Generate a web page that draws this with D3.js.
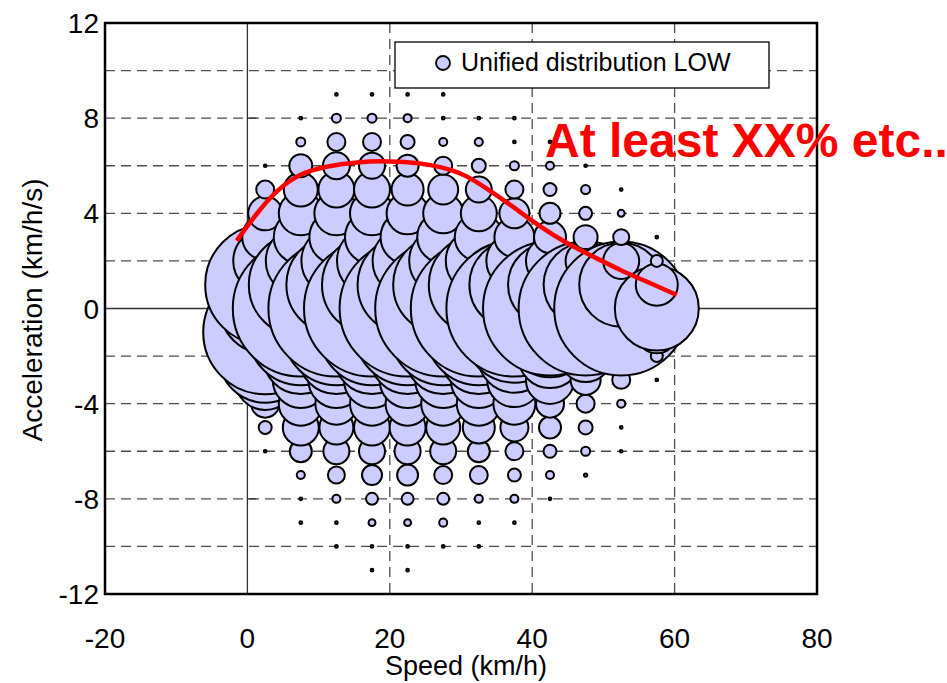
<!DOCTYPE html>
<html>
<head>
<meta charset="utf-8">
<script src="https://cdn.jsdelivr.net/npm/d3@7"></script>
<style>
  html, body { margin: 0; padding: 0; background: #ffffff; }
  svg { display: block; }
  text { font-family: "Liberation Sans", Arial, sans-serif; }
</style>
</head>
<body>
<svg id="chart" width="947" height="683"></svg>
<script>
// ---------- DATA ----------
const speedBins = [2.5, 7.5, 12.5, 17.5, 22.5, 27.5, 32.5, 37.5, 42.5, 47.5, 52.5, 57.5];
const accelBins = [9, 8, 7, 6, 5, 4, 3, 2, 1, 0, -1, -2, -3, -4, -5, -6, -7, -8, -9, -10, -11];

// bubble size (relative frequency, % of largest cell) per speed bin, rows follow accelBins
const size_02_5 = [0, 0, 0, 0.04, 1.75, 6.25, 11.4, 22.1, 77.9, 43.8, 83.1, 47.0, 19.5, 4.24, 0.91, 0.04, 0, 0, 0, 0, 0];
const size_07_5 = [0, 0.04, 0.44, 2.86, 6.25, 10.5, 15.8, 26.5, 58.5, 100, 60.7, 31.2, 17.0, 10.5, 7.0, 2.62, 0.35, 0.04, 0.04, 0, 0];
const size_12_5 = [0.04, 0.44, 1.75, 3.94, 7.0, 10.5, 15.8, 26.5, 54.1, 100, 60.7, 31.2, 17.0, 9.54, 6.25, 3.65, 1.56, 0.35, 0.04, 0.04, 0];
const size_17_5 = [0.04, 0.44, 1.75, 3.65, 7.0, 10.5, 15.8, 26.5, 54.1, 100, 60.7, 31.2, 17.0, 10.5, 7.0, 3.65, 2.16, 0.78, 0.26, 0.04, 0.04];
const size_22_5 = [0.04, 0.35, 1.06, 2.62, 5.54, 9.54, 15.8, 26.5, 54.1, 100, 60.7, 31.2, 17.0, 10.5, 7.0, 3.65, 2.38, 0.78, 0.26, 0.04, 0.04];
const size_27_5 = [0.04, 0.04, 0.35, 1.75, 4.87, 8.65, 14.6, 25.0, 54.1, 100, 60.7, 31.2, 17.0, 10.5, 6.25, 3.65, 1.75, 0.78, 0.35, 0.04, 0];
const size_32_5 = [0, 0.04, 0.35, 1.06, 3.65, 7.0, 12.5, 23.6, 54.1, 100, 60.7, 31.2, 17.0, 10.5, 5.54, 2.62, 1.75, 0.35, 0.04, 0.04, 0];
const size_37_5 = [0, 0.04, 0.04, 0.44, 1.75, 4.87, 8.65, 17.0, 43.8, 100, 55.0, 29.0, 16.0, 9.54, 4.24, 1.75, 0.91, 0.35, 0.04, 0, 0];
const size_42_5 = [0, 0, 0.04, 0.35, 0.91, 2.38, 5.54, 12.5, 38.1, 97.0, 43.8, 22.1, 12.5, 4.24, 2.62, 0.91, 0.35, 0.04, 0, 0, 0];
const size_47_5 = [0, 0, 0, 0.04, 0.44, 0.91, 3.11, 8.65, 38.1, 97.0, 38.1, 14.6, 4.87, 1.75, 1.06, 0.44, 0.06, 0, 0, 0, 0];
const size_52_5 = [0, 0, 0, 0, 0.04, 0.26, 1.38, 7.0, 38.1, 97.0, 38.1, 7.0, 1.75, 0.35, 0.04, 0.04, 0, 0, 0, 0, 0];
const size_57_5 = [0, 0, 0, 0, 0, 0, 0.04, 0.78, 9.54, 38.1, 9.54, 0.78, 0.04, 0, 0, 0, 0, 0, 0, 0, 0];
const sizeColumns = [size_02_5, size_07_5, size_12_5, size_17_5, size_22_5, size_27_5,
                     size_32_5, size_37_5, size_42_5, size_47_5, size_52_5, size_57_5];

// red trend curve (speed km/h, acceleration km/h/s)
const curveSpeed = [-1.5, 1.3, 4.1, 7.4, 10.7, 15.4, 20, 24.2, 27.0, 30.3, 33.6, 37.3, 41.1, 44.8, 48.6, 52.3, 56.1, 60.3];
const curveAccel = [2.85, 4.0, 4.98, 5.68, 5.96, 6.17, 6.2, 6.12, 5.96, 5.68, 5.05, 4.28, 3.44, 2.74, 2.18, 1.62, 1.13, 0.57];

const xTicks = [-20, 0, 20, 40, 60, 80];
const yTicks = [-12, -8, -4, 0, 4, 8, 12];
const yGrid = [-10, -8, -6, -4, -2, 2, 4, 6, 8, 10];
const xGrid = [20, 40, 60];

const legendLabel = "Unified distribution LOW";
const noteLabel = "At least XX% etc..";
const xTitle = "Speed (km/h)";
const yTitle = "Acceleration (km/h/s)";

// ---------- DRAW ----------
const svg = d3.select("#chart");
const L = 105, R = 817, T = 23, B = 594;
const x = d3.scaleLinear().domain([-20, 80]).range([L, R]);
const y = d3.scaleLinear().domain([-12, 12]).range([B, T]);
const rScale = d3.scaleSqrt().domain([0, 100]).range([0, 68]);

svg.append("rect").attr("width", 947).attr("height", 683).attr("fill", "#ffffff");

// grid
const grid = svg.append("g");
grid.selectAll("line.hg").data(yGrid).join("line")
  .attr("x1", L).attr("x2", R).attr("y1", d => y(d)).attr("y2", d => y(d))
  .attr("stroke", "#4d4d4d").attr("stroke-width", 1.3).attr("stroke-dasharray", "10,6");
grid.selectAll("line.vg").data(xGrid).join("line")
  .attr("y1", T).attr("y2", B).attr("x1", d => x(d)).attr("x2", d => x(d))
  .attr("stroke", "#4d4d4d").attr("stroke-width", 1.3).attr("stroke-dasharray", "10,6");
// zero axes
grid.append("line").attr("x1", L).attr("x2", R).attr("y1", y(0)).attr("y2", y(0))
  .attr("stroke", "#333").attr("stroke-width", 1.3);
grid.append("line").attr("x1", x(0)).attr("x2", x(0)).attr("y1", T).attr("y2", B)
  .attr("stroke", "#333").attr("stroke-width", 1.3);
grid.selectAll("line.zt").data(yTicks.filter(v => v !== 0 && Math.abs(v) !== 12)).join("line")
  .attr("x1", x(0)).attr("x2", x(0) + 9).attr("y1", d => y(d)).attr("y2", d => y(d))
  .attr("stroke", "#333").attr("stroke-width", 1.3);

// bubbles: data order = speed ascending, then acceleration ascending
const bubbles = [];
speedBins.forEach((s, i) => {
  sizeColumns[i].forEach((v, j) => {
    if (v > 0) bubbles.push({ s, a: accelBins[j], v });
  });
});
bubbles.sort((p, q) => d3.ascending(p.s, q.s) || d3.ascending(p.a, q.a));
svg.append("g").selectAll("circle").data(bubbles).join("circle")
  .attr("cx", d => x(d.s)).attr("cy", d => y(d.a)).attr("r", d => rScale(d.v))
  .attr("fill", "#ccccff").attr("stroke", "#000").attr("stroke-width", 2);

// red curve
const curvePts = curveSpeed.map((s, i) => [s, curveAccel[i]]);
svg.append("path").datum(curvePts)
  .attr("d", d3.line().x(d => x(d[0])).y(d => y(d[1])).curve(d3.curveBasis))
  .attr("fill", "none").attr("stroke", "#ff0000").attr("stroke-width", 4.5);

// frame
svg.append("rect").attr("x", L).attr("y", T).attr("width", R - L).attr("height", B - T)
  .attr("fill", "none").attr("stroke", "#000").attr("stroke-width", 2.5);

// axes labels
svg.append("g").selectAll("text").data(yTicks).join("text")
  .attr("x", L - 6).attr("y", d => y(d)).attr("dy", "0.36em")
  .attr("text-anchor", "end").attr("font-size", 28).attr("fill", "#000")
  .text(d => d);
svg.append("g").selectAll("text").data(xTicks).join("text")
  .attr("x", d => x(d)).attr("y", 648)
  .attr("text-anchor", "middle").attr("font-size", 28).attr("fill", "#000")
  .text(d => d);
svg.append("text").attr("x", 466).attr("y", 675).attr("text-anchor", "middle")
  .attr("font-size", 27).attr("fill", "#000").text(xTitle);
svg.append("text").attr("transform", "translate(42,310) rotate(-90)").attr("text-anchor", "middle")
  .attr("font-size", 28).attr("fill", "#000").text(yTitle);

// legend
const lg = svg.append("g");
lg.append("rect").attr("x", 395).attr("y", 42).attr("width", 374).attr("height", 46)
  .attr("fill", "#fff").attr("stroke", "#000").attr("stroke-width", 1.3);
lg.append("circle").attr("cx", 443).attr("cy", 63).attr("r", 7)
  .attr("fill", "#ccccff").attr("stroke", "#000").attr("stroke-width", 1.8);
lg.append("text").attr("x", 461).attr("y", 71).attr("font-size", 25).attr("fill", "#000").text(legendLabel);

// note
svg.append("text").attr("x", 545).attr("y", 157).attr("font-size", 48).attr("font-weight", "bold")
  .attr("fill", "#ff0000").text(noteLabel);
</script>
</body>
</html>
